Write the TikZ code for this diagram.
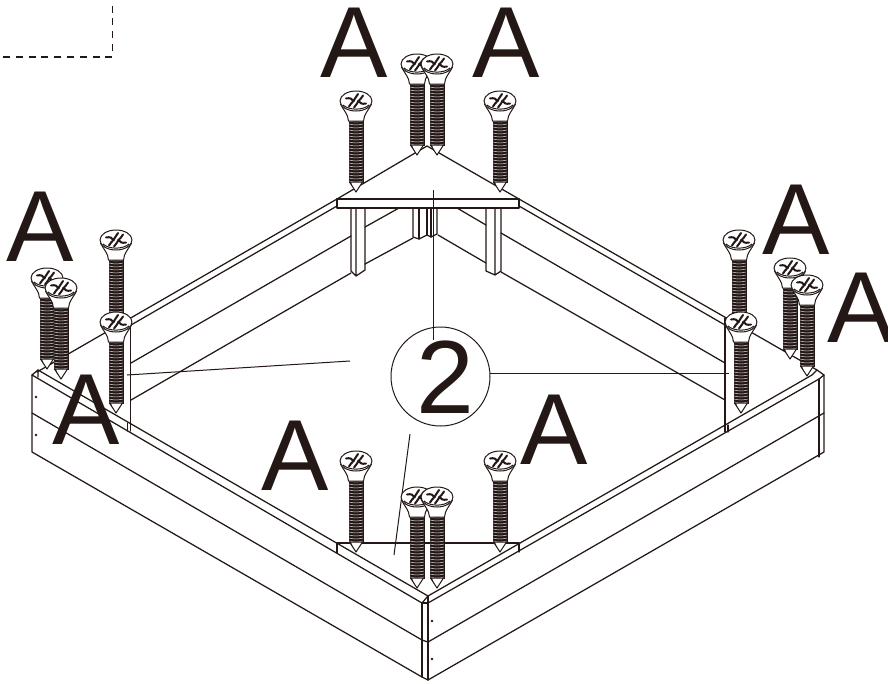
\documentclass[tikz,border=0pt]{standalone}
\usepackage{fontspec}
\setmainfont{Liberation Sans}
\definecolor{ink}{HTML}{231815}
\newcommand{\myscrew}[2]{%
  \begin{scope}[shift={(#1,#2)}]
    \fill[ink] (-7.5,17) rectangle (7.5,81.5);
    \foreach \t in {20,23,...,80}{
      \draw[white,line width=.42] (-6.8,\t) .. controls (-2,\t+1.3) and (2,\t+1.3) .. (6.8,\t);
    }
    \draw[screwline,fill=white] (-6.5,81) -- (0,91) -- (6.5,81) -- cycle;
    \fill[ink] (-6.5,81) -- (-3.5,85.5) -- (-5,81) -- cycle;
    \draw[screwline,fill=white] (-15.5,3) .. controls (-12,10) and (-8,13) .. (-7.5,20) -- (7.5,20) .. controls (8,13) and (12,10) .. (15.5,3) -- cycle;
    \draw[screwline,fill=white] (0,0) ellipse (16 and 10);
    \draw[screwline] (-13,4) .. controls (-7,9.5) and (7,9.5) .. (13,4);
    \draw[ink,line width=2,line cap=round] (-10,-2.5) .. controls (-6,-3.5) and (-3.5,-2) .. (-2.5,0) .. controls (-4,2) and (-6,3) .. (-7,5.5);
    \draw[ink,line width=2,line cap=round] (10,2.5) .. controls (6,3.5) and (3.5,2) .. (2.5,0) .. controls (4,-2) and (6,-3) .. (7,-5.5);
    \draw[ink,line width=2,line cap=round] (-2.5,0) .. controls (-1.5,-2) and (0,-4) .. (2,-7) (2.5,0) .. controls (1.5,2) and (0,4) .. (-2,6.5);
  \end{scope}%
}
\tikzset{
  wood/.style={ink,line width=1.25,line join=round,line cap=round},
  screwline/.style={ink,line width=1,line join=round},
  leader/.style={ink,line width=1},
  bigletter/.style={inner sep=0pt,anchor=base,text=ink,font=\fontsize{101}{101}\selectfont},
  numeral/.style={inner sep=0pt,anchor=base,text=ink,font=\fontsize{104}{104}\selectfont},
  guide/.style={ink,line width=1.7,dash pattern=on 7pt off 5.8pt}
}
\begin{document}
\begin{tikzpicture}[x=1pt,y=-1pt]
\useasboundingbox (0,0) rectangle (888,683);
% dashed corner
\coordinate (d1) at (3,56.7); \coordinate (d2) at (112.5,56.7); \coordinate (d3) at (112.5,0);
\draw[guide] (d1) -- (d2) -- (d3);
% back rails
\draw[wood] (37,372) -- (337,199) (519,199) -- (817,370);
\draw[wood] (131,325) -- (337,206) (519,206) -- (725,325);
% inner wall lines
\draw[wood] (131,363) -- (351,236) (365,227) -- (399,208);
\draw[wood] (131,400) -- (351,273) (365,264) -- (413,238);
\draw[wood] (457,208) -- (486,225) (501,233) -- (725,363);
\draw[wood] (438,235) -- (486,263) (501,272) -- (725,400);
% top plate
\draw[wood] (337,199) -- (427,146) -- (519,199);
\draw[wood] (337,199) rectangle (519,208);
% top posts
\draw[wood] (351,208) -- (351,271) -- (356,276) -- (365,270) -- (365,208) (356,208) -- (356,276);
\draw[wood] (486,208) -- (486,271) -- (495,275) -- (501,271) -- (501,208) (495,208) -- (495,275);
\draw[wood] (413,208) -- (413,237) -- (419,239) -- (427,235) -- (431,237) -- (437,234) -- (437,208);
\draw[wood] (419,208) -- (419,239) (427,208) -- (427,235) (431,208) -- (431,237);
% corner posts
\draw[wood] (130.5,320) -- (130.5,431) (127.5,423) -- (127.5,431);
\draw[wood] (725,318) -- (725,432) (728,425) -- (728,432);
% box outline
\draw[wood] (32,375) -- (32,452) -- (422,677) -- (428,680) -- (824,452) -- (824,375) -- (817,370);
\draw[wood] (32,375) -- (38,370) -- (38,377);
\draw[wood] (32,375) -- (422,603) -- (428,596) (38,370) -- (428,596);
\draw[wood] (428,603) -- (819,379) -- (824,375) (428,596) -- (812,375) -- (817,370);
\draw[wood] (422,603) -- (428,603);
\draw[wood] (32,413) -- (422,640) -- (428,642) -- (824,413);
\draw[wood] (422,603) -- (422,677) (428,596) -- (428,680);
\draw[wood] (819,379) -- (819,457);
% bottom plate
\draw[wood] (337,543) -- (519,543);
\draw[wood] (337,543) -- (337,553) (519,543) -- (519,552);
% nails
\fill[ink] (36,397) circle (1.3) (36,435) circle (1.3) (432,621) circle (1.3) (432,659) circle (1.3);
% callout
\node[circle,draw=ink,line width=1,minimum size=99pt,inner sep=0pt] (callout) at (440.5,376.5) {};
\node[numeral] (num) at (445.5,413) {2};
\coordinate (lt) at (433,190); \coordinate (ltb) at (433,340);
\coordinate (ll) at (127,375); \coordinate (llb) at (350,361);
\coordinate (lr) at (729,373); \coordinate (lrb) at (490,373);
\coordinate (lb) at (394,555); \coordinate (lbb) at (410,434);
\draw[leader] (lt) -- (ltb);
\draw[leader] (ll) -- (llb);
\draw[leader] (lr) -- (lrb);
\draw[leader] (lb) -- (lbb);
% screws
\myscrew{356}{101}\myscrew{417}{64}\myscrew{437}{64}\myscrew{500}{101}
\myscrew{116}{240}\myscrew{116}{322}\myscrew{47}{278}\myscrew{61}{288}
\myscrew{739}{240}\myscrew{741}{322}\myscrew{790}{268}\myscrew{807}{285}
\myscrew{356}{461}\myscrew{500}{461}\myscrew{417}{497}\myscrew{437}{497}
% letters
\node[bigletter] (a1) at (354.5,77) {A};
\node[bigletter] (a2) at (506.5,77) {A};
\node[bigletter] (a3) at (40.5,261) {A};
\node[bigletter] (a4) at (86,444) {A};
\node[bigletter] (a5) at (796,254) {A};
\node[bigletter] (a6) at (861,342) {A};
\node[bigletter] (a7) at (295,490) {A};
\node[bigletter] (a8) at (554,464) {A};
\end{tikzpicture}
\end{document}
